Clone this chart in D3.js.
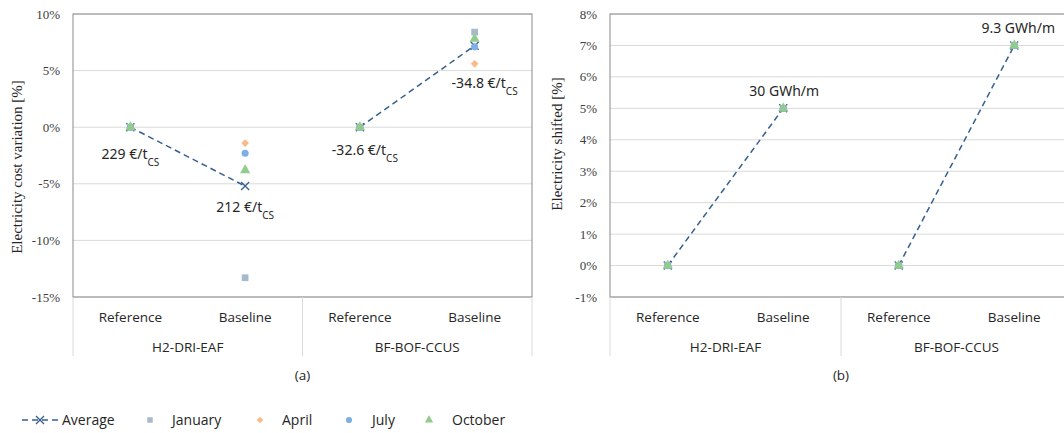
<!DOCTYPE html>
<html>
<head>
<meta charset="utf-8">
<script src="https://cdn.jsdelivr.net/npm/d3@7"></script>
<style>
  body { margin: 0; background: #fff; }
  text { fill: #262626; }
</style>
</head>
<body>
<script>
// categories
const groups = ['H2-DRI-EAF', 'BF-BOF-CCUS'];
const scenarios = ['Reference', 'Baseline'];
const months = ['January', 'April', 'July', 'October'];

// (a) electricity cost variation [%], order: H2 Ref, H2 Base, BF Ref, BF Base
const costAverage = [0, -5.2, 0, 7.2];
const costJanuary = [0, -13.3, 0, 8.4];
const costApril = [0, -1.4, 0, 5.6];
const costJuly = [0, -2.3, 0, 7.1];
const costOctober = [0, -3.8, 0, 7.8];
const costLabels = ['229 €/t', '212 €/t', '-32.6 €/t', '-34.8 €/t'];
const costTicks = [10, 5, 0, -5, -10, -15];

// (b) electricity shifted [%]
const shiftAverage = [0, 5, 0, 7];
const shiftJanuary = [0, 5, 0, 7];
const shiftApril = [0, 5, 0, 7];
const shiftJuly = [0, 5, 0, 7];
const shiftOctober = [0, 5, 0, 7];
const shiftLabels = [null, '30 GWh/m', null, '9.3 GWh/m'];
const shiftTicks = [8, 7, 6, 5, 4, 3, 2, 1, 0, -1];

const colors = {
  Average: '#35608e',
  January: '#a8b9cd',
  April: '#fbb98a',
  July: '#7daee4',
  October: '#92cc8c'
};

const sans = 'Open Sans';

const svg = d3.select('body').append('svg')
  .attr('width', 1064)
  .attr('height', 433);

const keys = [];
groups.forEach(g => scenarios.forEach(s => keys.push(g + '|' + s)));

function markerPath(name, size) {
  const sym = { January: d3.symbolSquare, April: d3.symbolSquare, July: d3.symbolCircle, October: d3.symbolTriangle }[name];
  return d3.symbol().type(sym).size(size)();
}
// april uses a square turned 45 degrees
const markerRot = { January: 0, April: 45, July: 0, October: 0 };

function drawPanel(opt) {
  const g = svg.append('g');
  const x = d3.scaleBand().domain(keys).range([opt.left, opt.right]);
  const y = d3.scaleLinear().domain(opt.domain).range([297, 14]);

  // grid
  g.selectAll('.grid').data(opt.ticks).join('line')
    .attr('x1', opt.left).attr('x2', opt.right)
    .attr('y1', d => y(d)).attr('y2', d => y(d))
    .attr('stroke', '#d9d9d9').attr('stroke-width', 1);

  // plot border
  g.append('rect')
    .attr('x', opt.left).attr('y', 14)
    .attr('width', opt.right - opt.left).attr('height', 283)
    .attr('fill', 'none').attr('stroke', '#8a8a8a').attr('stroke-width', 1);

  // y tick labels
  g.selectAll('.tick').data(opt.ticks).join('text')
    .attr('x', opt.left - 13).attr('y', d => y(d))
    .attr('dy', '0.35em')
    .attr('text-anchor', 'end')
    .style('font-family', 'Liberation Serif')
    .style('font-size', '13px')
    .style('fill', '#404040')
    .text(d => d + '%');

  // y title
  g.append('text')
    .attr('transform', `translate(${opt.titleX},${opt.titleY}) rotate(-90)`)
    .attr('text-anchor', 'middle')
    .style('font-family', 'Liberation Serif')
    .style('font-size', '15px')
    .text(opt.title);

  // category axis separators
  const bw = x.bandwidth();
  const seps = [opt.left, opt.left + 2 * bw, opt.right];
  g.selectAll('.sep').data(seps).join('line')
    .attr('x1', d => d).attr('x2', d => d)
    .attr('y1', 297).attr('y2', 356)
    .attr('stroke', '#d9d9d9');

  g.selectAll('.cat').data(keys).join('text')
    .attr('x', d => x(d) + bw / 2).attr('y', 322)
    .attr('text-anchor', 'middle')
    .style('font-family', sans)
    .style('font-size', '13.5px')
    .text(d => d.split('|')[1]);

  g.selectAll('.grp').data(groups).join('text')
    .attr('x', (d, i) => opt.left + bw * (2 * i + 1)).attr('y', 352)
    .attr('text-anchor', 'middle')
    .style('font-family', sans)
    .style('font-size', '13.5px')
    .text(d => d);

  g.append('text')
    .attr('x', opt.left + 2 * bw).attr('y', 380)
    .attr('text-anchor', 'middle')
    .style('font-family', sans)
    .style('font-size', '13.5px')
    .text(opt.tag);

  // average dashed lines per group
  const cx = i => x(keys[i]) + bw / 2;
  const line = d3.line().x(d => cx(d)).y(d => y(opt.avg[d]));
  [[0, 1], [2, 3]].forEach(pair => {
    g.append('path')
      .attr('d', line(pair))
      .attr('fill', 'none')
      .attr('stroke', colors.Average)
      .attr('stroke-width', 1.5)
      .attr('stroke-dasharray', '6,4');
  });
  g.selectAll('.avgx').data(opt.avg).join('path')
    .attr('transform', (d, i) => `translate(${cx(i)},${y(d)})`)
    .attr('d', 'M-4,-4L4,4M-4,4L4,-4')
    .attr('stroke', colors.Average).attr('stroke-width', 1.3);

  // monthly markers
  const series = [['January', opt.jan, 45], ['April', opt.apr, 30], ['July', opt.jul, 40], ['October', opt.oct, 45]];
  series.forEach(([name, vals, size]) => {
    g.selectAll('.m' + name).data(vals).join('path')
      .attr('transform', (d, i) => `translate(${cx(i)},${y(d)}) rotate(${markerRot[name]})`)
      .attr('d', markerPath(name, size))
      .attr('fill', colors[name]);
  });

  // data labels
  opt.labels.forEach((lab, i) => {
    if (!lab) return;
    const off = opt.labelOffsets[i];
    const t = g.append('text')
      .attr('x', cx(i) + off[0]).attr('y', y(opt.avg[i]) + off[1])
      .attr('text-anchor', 'middle')
      .style('font-family', 'Noto Sans')
      .style('font-size', '14px');
    t.append('tspan').text(lab);
    if (opt.sub) {
      t.append('tspan').attr('baseline-shift', 'sub').style('font-size', '10px').text('CS');
    }
  });
}

drawPanel({
  left: 73, right: 532, domain: [-15, 10], ticks: costTicks,
  title: 'Electricity cost variation [%]', titleX: 22, titleY: 167,
  tag: '(a)',
  avg: costAverage, jan: costJanuary, apr: costApril, jul: costJuly, oct: costOctober,
  labels: costLabels, sub: true,
  labelOffsets: [[0, 32], [0, 26], [5, 28], [10, 42]]
});

drawPanel({
  left: 610, right: 1072, domain: [-1, 8], ticks: shiftTicks,
  title: 'Electricity shifted [%]', titleX: 562, titleY: 144,
  tag: '(b)',
  avg: shiftAverage, jan: shiftJanuary, apr: shiftApril, jul: shiftJuly, oct: shiftOctober,
  labels: shiftLabels, sub: false,
  labelOffsets: [[0, 0], [1, -12], [0, 0], [4, -12]]
});

// legend
const legend = svg.append('g').attr('transform', 'translate(0,420)');
legend.append('line')
  .attr('x1', 22).attr('x2', 58).attr('y1', 0).attr('y2', 0)
  .attr('stroke', colors.Average).attr('stroke-width', 1.5)
  .attr('stroke-dasharray', '6,4');
legend.append('path')
  .attr('transform', 'translate(40,0)')
  .attr('d', 'M-4,-4L4,4M-4,4L4,-4')
  .attr('stroke', colors.Average).attr('stroke-width', 1.3);
legend.append('text')
  .attr('x', 62).attr('y', 0).attr('dy', '0.35em')
  .style('font-family', sans).style('font-size', '14px')
  .text('Average');

const legendX = { January: [150, 172], April: [260, 282], July: [349, 372], October: [429, 452] };
months.forEach(m => {
  legend.append('path')
    .attr('transform', `translate(${legendX[m][0]},0) rotate(${markerRot[m]})`)
    .attr('d', markerPath(m, m === 'April' ? 22 : 30))
    .attr('fill', colors[m]);
  legend.append('text')
    .attr('x', legendX[m][1]).attr('y', 0).attr('dy', '0.35em')
    .style('font-family', sans).style('font-size', '14px')
    .text(m);
});
</script>
</body>
</html>
